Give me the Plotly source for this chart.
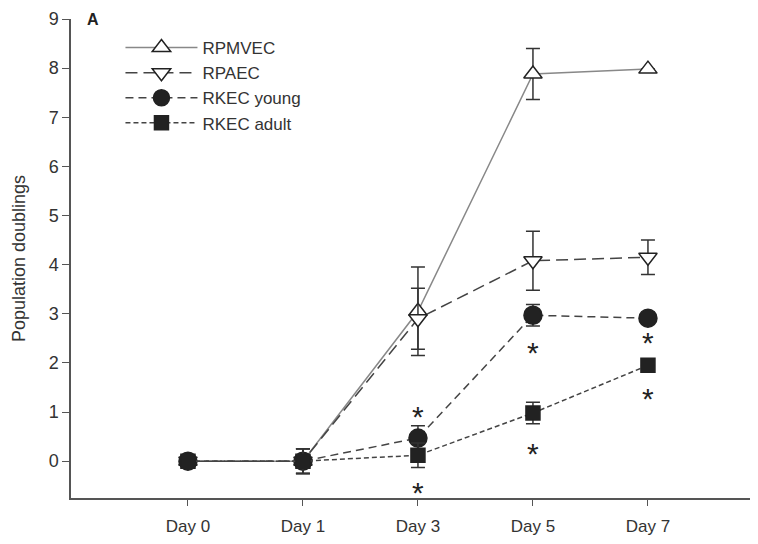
import plotly.graph_objects as go

days = ["Day 0", "Day 1", "Day 3", "Day 5", "Day 7"]
y_ticks = [0, 1, 2, 3, 4, 5, 6, 7, 8, 9]

rpmvec = [0, 0, 3.05, 7.88, 7.98]
rpmvec_err = [0, 0.25, 0.9, 0.52, 0]
rpaec = [0, 0, 2.9, 4.08, 4.15]
rpaec_err = [0, 0.25, 0.62, 0.6, 0.35]
rkec_young = [0, 0, 0.47, 2.97, 2.91]
rkec_young_err = [0, 0.25, 0.25, 0.22, 0]
rkec_adult = [0, 0, 0.12, 0.98, 1.95]
rkec_adult_err = [0, 0.25, 0.25, 0.22, 0]

# significance markers: (day, y)
star_days = ["Day 3", "Day 3", "Day 5", "Day 5", "Day 7", "Day 7"]
star_y = [1.05, -0.5, 2.35, 0.3, 2.55, 1.42]

fig = go.Figure()

def add(name, y, err, symbol, fill, dash, lcolor, msize):
    fig.add_trace(go.Scatter(
        x=days, y=y, name=name, mode="lines+markers",
        line=dict(color=lcolor, width=1.5, dash=dash),
        marker=dict(symbol=symbol, size=msize, color=fill,
                    line=dict(color="#222", width=1.5)),
        error_y=dict(type="data", array=err, visible=True,
                     color="#333", thickness=1.5, width=7),
    ))

add("RPMVEC", rpmvec, rpmvec_err, "triangle-up", "white", "solid", "#888", 16)
add("RPAEC", rpaec, rpaec_err, "triangle-down", "white", "12px,6px", "#444", 16)
add("RKEC young", rkec_young, rkec_young_err, "circle", "#222", "8px,5px", "#444", 18)
add("RKEC adult", rkec_adult, rkec_adult_err, "square", "#222", "5px,3px", "#444", 14)

for d, yv in zip(star_days, star_y):
    fig.add_annotation(x=d, y=yv, text="*", showarrow=False,
                       font=dict(size=30, color="#222", family="Liberation Sans"),
                       yshift=-7)

fig.add_annotation(xref="paper", yref="paper", x=0.02, y=1.0, text="<b>A</b>",
                   showarrow=False, xanchor="left", yanchor="middle",
                   font=dict(size=16, color="#222"))

# page body has an 8px default margin; margins compensate for it
fig.update_layout(
    width=758, height=544,
    margin=dict(l=63, r=8, t=11, b=54),
    plot_bgcolor="white", paper_bgcolor="white",
    font=dict(family="Liberation Sans, Arial", color="#333", size=18),
    showlegend=True,
    legend=dict(x=0.072, y=0.977, xanchor="left", yanchor="top",
                bgcolor="rgba(0,0,0,0)", font=dict(size=17, color="#333"),
                itemwidth=72, tracegroupgap=0),
    xaxis=dict(type="category", categoryorder="array", categoryarray=days,
               range=[-1.017, 4.957], showline=True, linecolor="#555", linewidth=1.5,
               ticks="outside", ticklen=6, tickcolor="#555", showgrid=False,
               zeroline=False, tickfont=dict(size=17), automargin=False,
               ticklabelstandoff=6),
    yaxis=dict(range=[-0.75, 9], tickvals=y_ticks, showline=True,
               linecolor="#555", linewidth=1.5, ticks="outside", ticklen=7,
               tickcolor="#555", showgrid=False, zeroline=False,
               tickfont=dict(size=18), automargin=False,
               title=dict(text="Population doublings", font=dict(size=18), standoff=18)),
)

fig.write_html("out.html")
